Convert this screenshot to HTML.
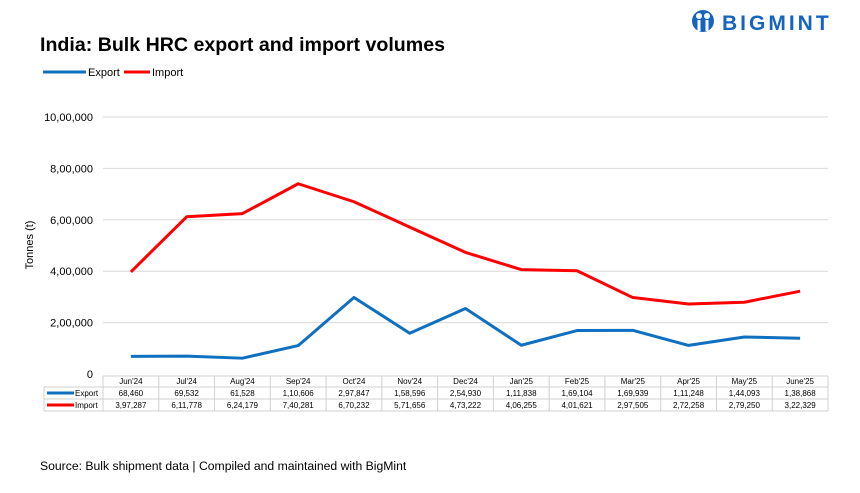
<!DOCTYPE html>
<html><head><meta charset="utf-8"><style>
body{margin:0;background:#fff;font-family:"Liberation Sans",sans-serif}
</style></head><body>
<svg width="860" height="488" xmlns="http://www.w3.org/2000/svg" style="font-family:'Liberation Sans',sans-serif">
<g>
<circle cx="703" cy="21" r="11" fill="#1565c0"/>
<circle cx="699" cy="16" r="3" fill="#fff"/><circle cx="707" cy="16" r="3" fill="#fff"/>
<rect x="697.5" y="20" width="3" height="11" fill="#fff"/><rect x="705.5" y="20" width="3" height="11" fill="#fff"/>
<text x="722" y="30" font-size="21" font-weight="bold" fill="#1565c0" letter-spacing="3">BIGMINT</text>
</g>
<text x="40" y="51" font-size="19.6" font-weight="bold" fill="#000">India: Bulk HRC export and import volumes</text>
<g>
<line x1="43" y1="72" x2="86" y2="72" stroke="#1070c0" stroke-width="3"/><text x="88" y="76" font-size="11">Export</text>
<line x1="124" y1="72" x2="150" y2="72" stroke="#f00" stroke-width="3"/><text x="152" y="76" font-size="11">Import</text>
</g>
<text transform="translate(33,245) rotate(-90)" font-size="11" text-anchor="middle">Tonnes (t)</text>
<g id="grid"></g><g id="series"></g><g id="table"></g>
<text x="40" y="470" font-size="12.2">Source: Bulk shipment data | Compiled and maintained with BigMint</text>
</svg>
<script>
const categories=["Jun'24","Jul'24","Aug'24","Sep'24","Oct'24","Nov'24","Dec'24","Jan'25","Feb'25","Mar'25","Apr'25","May'25","June'25"];
const exportVals=[68460,69532,61528,110606,297847,158596,254930,111838,169104,169939,111248,144093,138868];
const importVals=[397287,611778,624179,740281,670232,571656,473222,406255,401621,297505,272258,279250,322329];
const exportLabels=["68,460","69,532","61,528","1,10,606","2,97,847","1,58,596","2,54,930","1,11,838","1,69,104","1,69,939","1,11,248","1,44,093","1,38,868"];
const importLabels=["3,97,287","6,11,778","6,24,179","7,40,281","6,70,232","5,71,656","4,73,222","4,06,255","4,01,621","2,97,505","2,72,258","2,79,250","3,22,329"];
const yTicks=[0,200000,400000,600000,800000,1000000];
const yTickLabels=["0","2,00,000","4,00,000","6,00,000","8,00,000","10,00,000"];
const NS="http://www.w3.org/2000/svg";
const X0=103,X1=828,Y0=374,Y1=117,cw=(X1-X0)/categories.length;
const x=i=>X0+cw*(i+0.5), y=v=>Y0-(v/1000000)*(Y0-Y1);
function mk(t,a,p){const e=document.createElementNS(NS,t);for(const k in a)e.setAttribute(k,a[k]);p.appendChild(e);return e;}
const g=document.getElementById('grid');
yTicks.forEach((t,i)=>{
 if(t>0){const l=mk('line',{x1:X0,x2:X1,y1:y(t),y2:y(t),stroke:'#d9d9d9','stroke-width':1},g);
 
 }
 const tx=mk('text',{x:93,y:y(t)+4,'font-size':11,'text-anchor':'end'},g);tx.textContent=yTickLabels[i];
 
 
});
const s=document.getElementById('series');
[[exportVals,'#1070c0','export-line'],[importVals,'#f00','import-line']].forEach(([v,c,n])=>{
 const p=mk('polyline',{points:v.map((d,i)=>x(i)+','+y(d)).join(' '),fill:'none',stroke:c,'stroke-width':3,'stroke-linejoin':'round'},s);
 
 
});
const tb=document.getElementById('table');
const rows=[376,387,399,411];
const lc='#d0d0d0';
rows.forEach((r,i)=>mk('line',{x1:i==0?X0:44,x2:X1,y1:r,y2:r,stroke:lc},tb));
mk('line',{x1:44,x2:44,y1:387,y2:411,stroke:lc},tb);
for(let i=0;i<=categories.length;i++)mk('line',{x1:X0+cw*i,x2:X0+cw*i,y1:376,y2:411,stroke:lc},tb);
mk('line',{x1:47,x2:74,y1:393,y2:393,stroke:'#1070c0','stroke-width':3},tb);
mk('text',{x:75,y:396,'font-size':8},tb).textContent='Export';
mk('line',{x1:47,x2:74,y1:405,y2:405,stroke:'#f00','stroke-width':3},tb);
mk('text',{x:75,y:408,'font-size':8},tb).textContent='Import';
categories.forEach((c,i)=>{
 const a=mk('text',{x:x(i),y:384,'font-size':8,'text-anchor':'middle'},tb);a.textContent=c;
 
 
 const b=mk('text',{x:x(i),y:396,'font-size':8,'text-anchor':'middle'},tb);b.textContent=exportLabels[i];
 
 
 const d=mk('text',{x:x(i),y:408,'font-size':8,'text-anchor':'middle'},tb);d.textContent=importLabels[i];
 
 
});
</script>
</body></html>
